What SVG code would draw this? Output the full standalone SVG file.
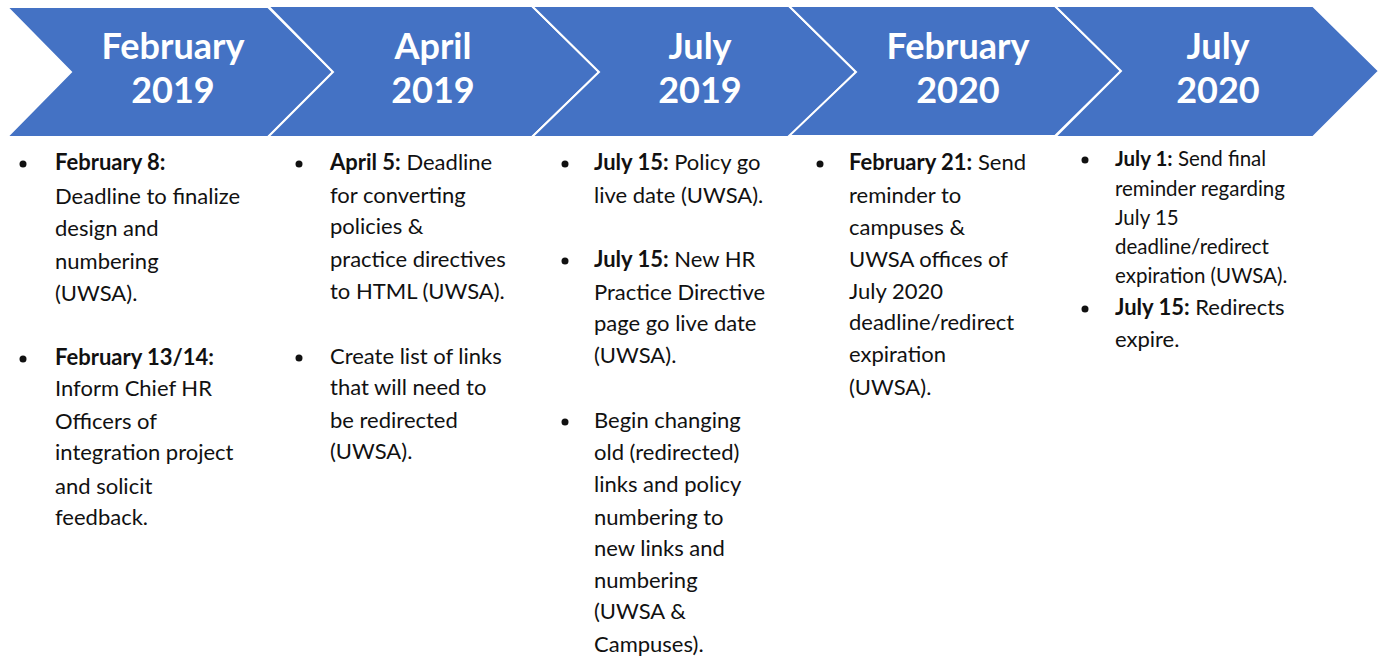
<svg xmlns="http://www.w3.org/2000/svg" width="1383" height="660" viewBox="0 0 1383 660">
<style>
.chev{fill:#4472C4;stroke:#ffffff;stroke-width:2;stroke-linejoin:miter}
.title{font-family:Lato,"Open Sans",sans-serif;font-weight:bold;font-size:36px;fill:#ffffff;text-anchor:middle}
.body{font-family:Lato,"Open Sans",sans-serif;font-size:22px;fill:#111111}
.sm{font-size:20.5px}
.b{font-weight:bold}
.dot{fill:#111111}
</style>
<rect width="1383" height="660" fill="#ffffff"/>
<g id="node-feb2019">
<polygon class="chev" points="7,7 268,7 333,72 268,137 7,137 71,72"/>
<text class="title" x="173" y="59">February</text>
<text class="title" x="173" y="103">2019</text>
</g>
<g id="node-apr2019">
<polygon class="chev" points="268,6 532,6 599,72 532,137 268,137 333,72"/>
<text class="title" x="433" y="59">April</text>
<text class="title" x="433" y="103">2019</text>
</g>
<g id="node-jul2019">
<polygon class="chev" points="532,6 789,6 856,72 789,137 532,137 599,72"/>
<text class="title" x="700" y="59">July</text>
<text class="title" x="700" y="103">2019</text>
</g>
<g id="node-feb2020">
<polygon class="chev" points="789,6 1055,6 1121,71 1055,136 789,136 856,72"/>
<text class="title" x="958" y="59">February</text>
<text class="title" x="958" y="103">2020</text>
</g>
<g id="node-jul2020">
<polygon class="chev" points="1055,6 1313,6 1379,71 1313,137 1055,137 1121,71"/>
<text class="title" x="1218" y="59">July</text>
<text class="title" x="1218" y="103">2020</text>
</g>
<g id="connectors"></g>
<g id="text-col1">
<circle class="dot" cx="23" cy="164" r="3.5"/>
<circle class="dot" cx="23" cy="359" r="3.5"/>
<text class="body" x="55"><tspan x="55" y="170" class="b">February 8:</tspan><tspan x="55" y="204">Deadline to finalize</tspan><tspan x="55" y="236">design and</tspan><tspan x="55" y="269">numbering</tspan><tspan x="55" y="301">(UWSA).</tspan><tspan x="55" y="365" class="b">February 13/14:</tspan><tspan x="55" y="396">Inform Chief HR</tspan><tspan x="55" y="429">Officers of</tspan><tspan x="55" y="460">integration project</tspan><tspan x="55" y="494">and solicit</tspan><tspan x="55" y="525">feedback.</tspan></text>
</g>
<g id="text-col2">
<circle class="dot" cx="299" cy="164" r="3.5"/>
<circle class="dot" cx="299" cy="358" r="3.5"/>
<text class="body"><tspan x="330" y="170"><tspan class="b">April 5:</tspan> Deadline</tspan><tspan x="330" y="203">for converting</tspan><tspan x="330" y="234">policies &amp;</tspan><tspan x="330" y="267">practice directives</tspan><tspan x="330" y="299">to HTML (UWSA).</tspan><tspan x="330" y="364">Create list of links</tspan><tspan x="330" y="395">that will need to</tspan><tspan x="330" y="428">be redirected</tspan><tspan x="330" y="459">(UWSA).</tspan></text>
</g>
<g id="text-col3">
<circle class="dot" cx="565" cy="164" r="3.5"/>
<circle class="dot" cx="565" cy="261" r="3.5"/>
<circle class="dot" cx="565" cy="422" r="3.5"/>
<text class="body"><tspan x="594" y="170"><tspan class="b">July 15:</tspan> Policy go</tspan><tspan x="594" y="203">live date (UWSA).</tspan><tspan x="594" y="267"><tspan class="b">July 15:</tspan> New HR</tspan><tspan x="594" y="300">Practice Directive</tspan><tspan x="594" y="331">page go live date</tspan><tspan x="594" y="363">(UWSA).</tspan><tspan x="594" y="428">Begin changing</tspan><tspan x="594" y="460">old (redirected)</tspan><tspan x="594" y="492">links and policy</tspan><tspan x="594" y="525">numbering to</tspan><tspan x="594" y="556">new links and</tspan><tspan x="594" y="588">numbering</tspan><tspan x="594" y="619">(UWSA &amp;</tspan><tspan x="594" y="652">Campuses).</tspan></text>
</g>
<g id="text-col4">
<circle class="dot" cx="820" cy="164" r="3.5"/>
<text class="body"><tspan x="849" y="170"><tspan class="b">February 21:</tspan> Send</tspan><tspan x="849" y="203">reminder to</tspan><tspan x="849" y="235">campuses &amp;</tspan><tspan x="849" y="267">UWSA offices of</tspan><tspan x="849" y="299">July 2020</tspan><tspan x="849" y="330">deadline/redirect</tspan><tspan x="849" y="362">expiration</tspan><tspan x="849" y="395">(UWSA).</tspan></text>
</g>
<g id="text-col5">
<circle class="dot" cx="1085" cy="160" r="3.5"/>
<circle class="dot" cx="1085" cy="309" r="3.5"/>
<text class="body sm"><tspan x="1115" y="166"><tspan class="b">July 1:</tspan> Send final</tspan><tspan x="1115" y="196">reminder regarding</tspan><tspan x="1115" y="225">July 15</tspan><tspan x="1115" y="254">deadline/redirect</tspan><tspan x="1115" y="283">expiration (UWSA).</tspan></text>
<text class="body"><tspan x="1115" y="315"><tspan class="b">July 15:</tspan> Redirects</tspan><tspan x="1115" y="347">expire.</tspan></text>
</g>
</svg>
